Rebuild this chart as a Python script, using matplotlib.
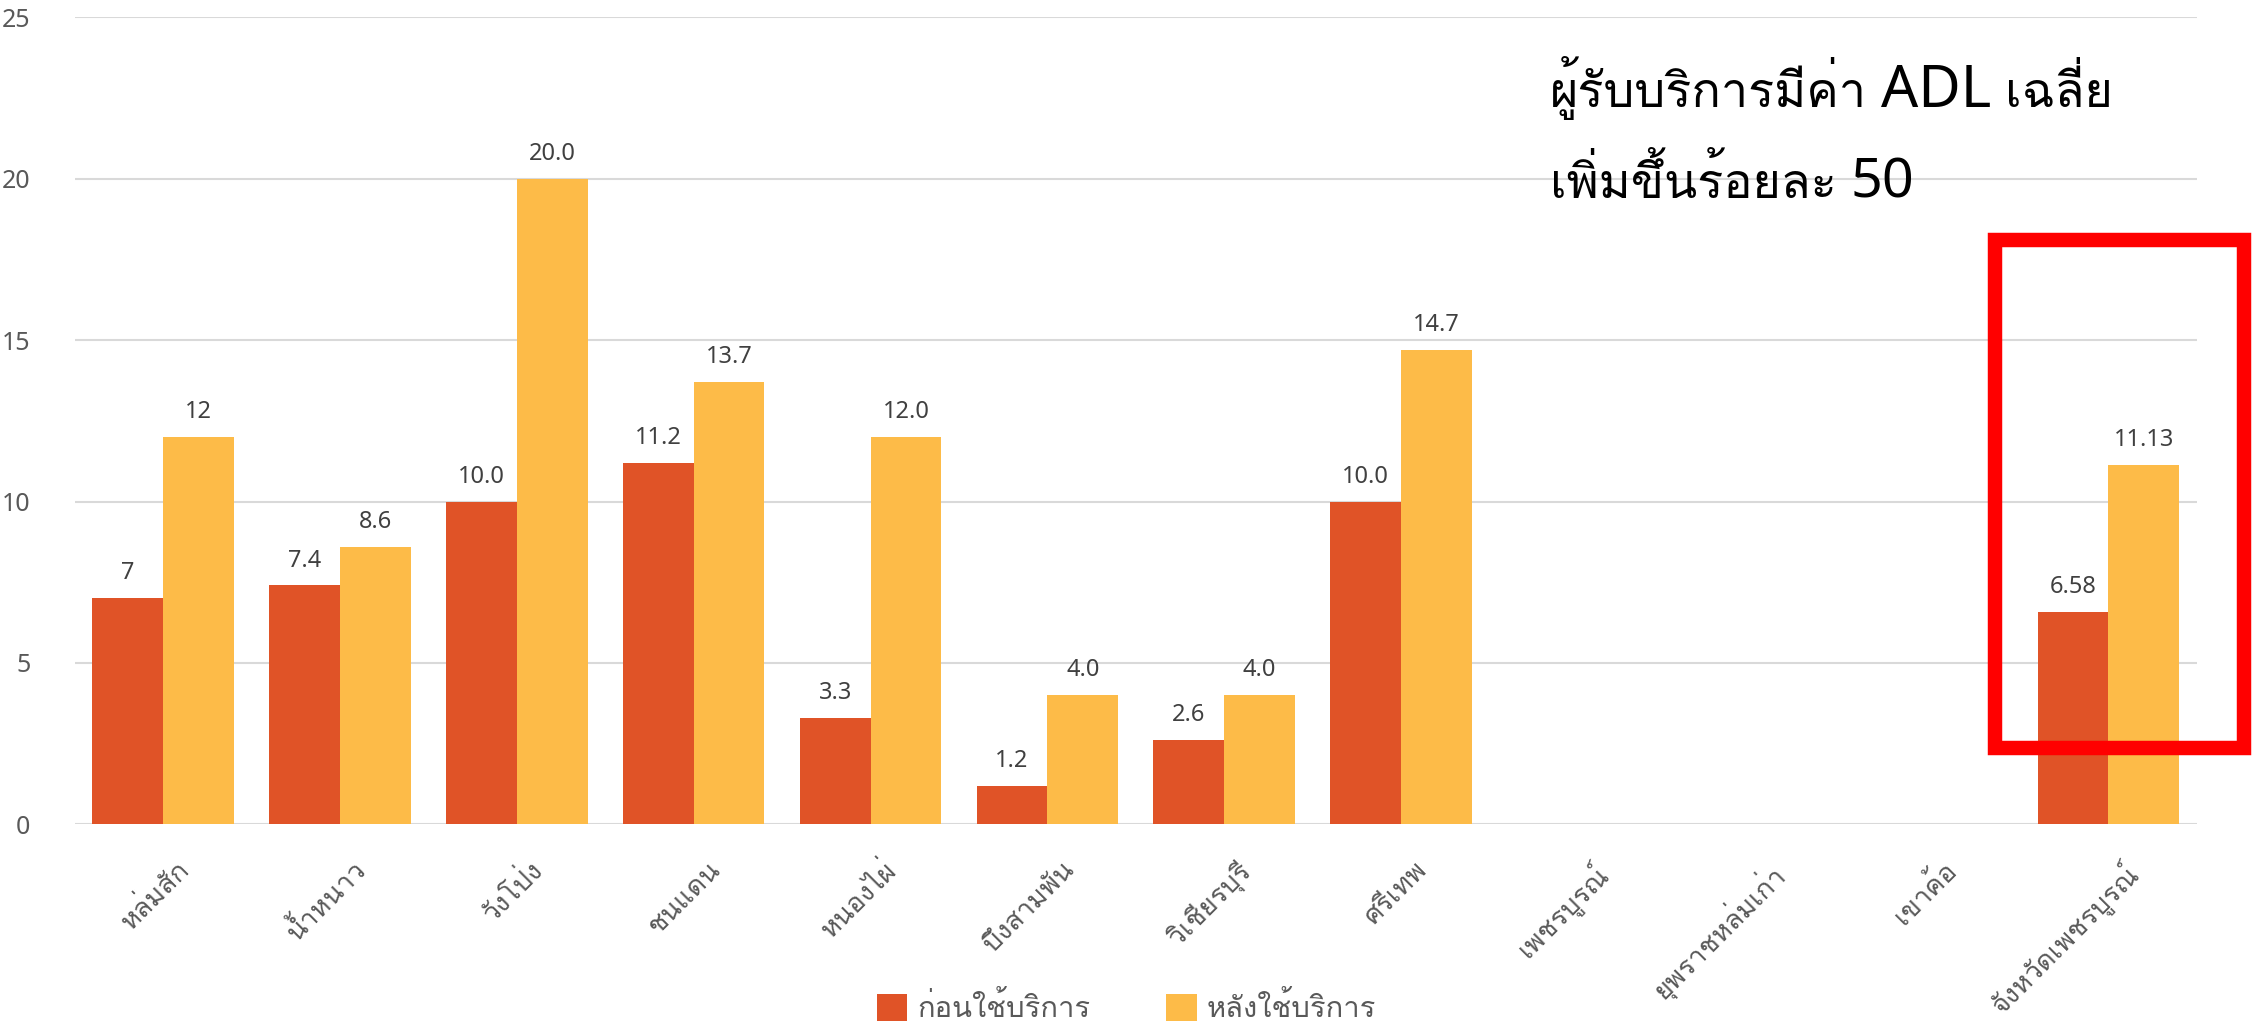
import matplotlib
matplotlib.use("Agg")
import matplotlib.pyplot as plt
from matplotlib import font_manager
from matplotlib.patches import Rectangle
from matplotlib.transforms import ScaledTranslation
import numpy as np

categories = ["หล่มสัก", "น้ำหนาว", "วังโป่ง", "ชนแดน", "หนองไผ่", "บึงสามพัน",
              "วิเชียรบุรี", "ศรีเทพ", "เพชรบูรณ์", "ยุพราชหล่มเก่า", "เขาค้อ",
              "จังหวัดเพชรบูรณ์"]
before = [7, 7.4, 10.0, 11.2, 3.3, 1.2, 2.6, 10.0, None, None, None, 6.58]
after = [12, 8.6, 20.0, 13.7, 12.0, 4.0, 4.0, 14.7, None, None, None, 11.13]
before_labels = ["7", "7.4", "10.0", "11.2", "3.3", "1.2", "2.6", "10.0", "", "", "", "6.58"]
after_labels = ["12", "8.6", "20.0", "13.7", "12.0", "4.0", "4.0", "14.7", "", "", "", "11.13"]
series_names = ["ก่อนใช้บริการ", "หลังใช้บริการ"]
yticks = [0, 5, 10, 15, 20, 25]
note_line1 = [("ผู้รับบริการมีค่า", 35), ("ADL", 42), ("เฉลี่ย", 35)]
note_line2 = [("เพิ่มขึ้นร้อยละ", 35), ("50", 40)]

available = {f.name for f in font_manager.fontManager.ttflist}
thai_pref = [n for n in ["Loma", "Noto Sans Thai Looped", "Sarabun"] if n in available]
thai = thai_pref[:1]
fam = ["Noto Sans"] + thai + ["DejaVu Sans"]
plt.rcParams['font.family'] = fam

c_before = "#E05327"
c_after = "#FDBB48"
grid_c = "#D9D9D9"
txt_c = "#595959"

fig = plt.figure(figsize=(22.67, 10.24), dpi=100)
ax = fig.add_axes([0.033, 0.195, 0.936, 0.788])

x = np.arange(len(categories))
w = 0.4
bv = [np.nan if v is None else v for v in before]
av = [np.nan if v is None else v for v in after]
ax.bar(x - w / 2, bv, w, color=c_before, label=series_names[0], zorder=3)
ax.bar(x + w / 2, av, w, color=c_after, label=series_names[1], zorder=3)

for i in range(len(categories)):
    if before[i] is not None:
        ax.text(x[i] - w / 2, before[i] + 0.4, before_labels[i], ha="center", va="bottom",
                fontsize=17, color="#404040")
    if after[i] is not None:
        ax.text(x[i] + w / 2, after[i] + 0.4, after_labels[i], ha="center", va="bottom",
                fontsize=17, color="#404040")

ax.set_xlim(-0.5, len(categories) - 0.5)
ax.set_ylim(0, 25)
ax.set_yticks(yticks)
ax.yaxis.grid(True, color=grid_c, linewidth=1.5, zorder=0)
ax.set_axisbelow(True)
for s in ax.spines.values():
    s.set_visible(False)
ax.tick_params(axis="both", length=0, labelsize=18, labelcolor=txt_c)
ax.tick_params(axis="y", pad=32)
ax.set_xticks(x)
ax.set_xticklabels(categories, rotation=45, ha="right", rotation_mode="anchor", fontsize=19.5)
ax.tick_params(axis="x", pad=23)
shift = ScaledTranslation(9 / 72, 0, fig.dpi_scale_trans)
for lbl in ax.get_xticklabels():
    lbl.set_transform(lbl.get_transform() + shift)

# annotation drawn piece by piece (mixed sizes), placed left to right
renderer = fig.canvas.get_renderer()
W, H = fig.bbox.width, fig.bbox.height
def draw_line(pieces, x0_px, base_px, gap_px=14):
    xpos = x0_px
    for txt, size in pieces:
        t = fig.text(xpos / W, 1 - base_px / H, txt, fontsize=size, color="black",
                     va="baseline", ha="left")
        bb = t.get_window_extent(renderer=renderer)
        xpos = bb.x1 + gap_px

draw_line(note_line1, 1550, 107)
draw_line(note_line2, 1550, 198)

rect = Rectangle((1995 / 2267, 1 - 748 / 1024), (2244 - 1995) / 2267, (748 - 240) / 1024,
                 transform=fig.transFigure, fill=False, edgecolor="#FF0000", linewidth=10.4)
fig.patches.append(rect)

leg = fig.legend(loc="lower center", bbox_to_anchor=(0.497, -0.026), ncol=2, frameon=False,
                 fontsize=21, handlelength=1.03, handleheight=1.03, columnspacing=2.6,
                 handletextpad=0.35)
for t in leg.get_texts():
    t.set_color(txt_c)

fig.savefig("out.png", dpi=100)
